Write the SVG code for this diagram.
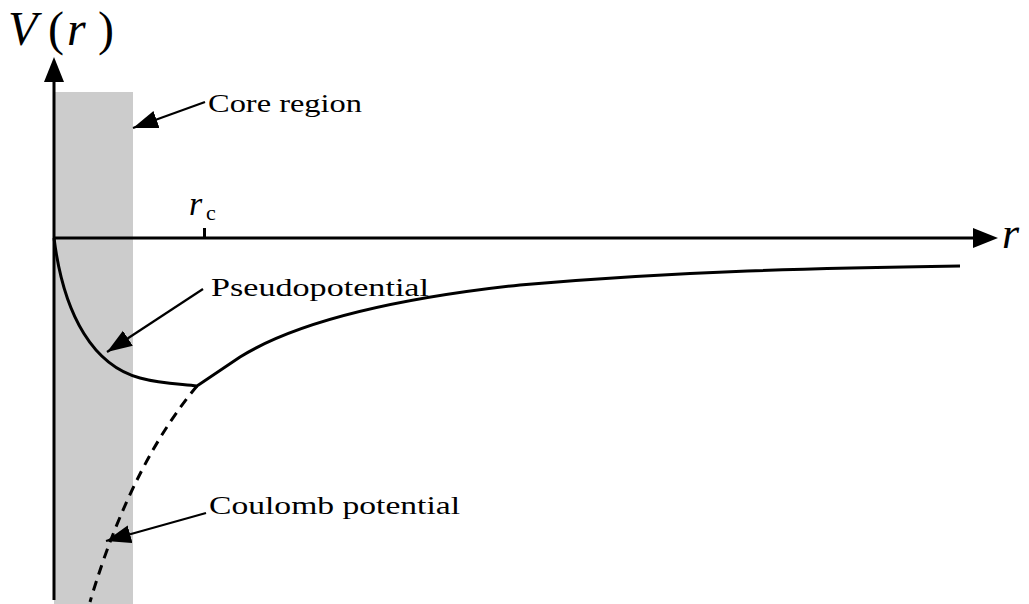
<svg xmlns="http://www.w3.org/2000/svg" width="1029" height="604" viewBox="0 0 1029 604">
<style>
text{font-family:"Liberation Serif","Times New Roman",serif;fill:#000}
.lbl{font-size:26px}
.it{font-style:italic}
.ax{stroke:#000;stroke-width:3;fill:none}
.cv{stroke:#000;stroke-width:3;fill:none;stroke-linejoin:miter}
.ann{stroke:#000;stroke-width:2.2;fill:none}
</style>
<defs>
<marker id="ah" markerUnits="userSpaceOnUse" markerWidth="28" markerHeight="20" refX="25" refY="9" orient="auto">
<path d="M0,0 L25,9 L0,18 Z" fill="#000"/>
</marker>
</defs>
<rect width="1029" height="604" fill="#fff"/>
<g id="core">
<rect x="54" y="92" width="79" height="512" fill="#cccccc"/>
</g>
<g id="axes">
<line class="ax" x1="54" y1="600" x2="54" y2="80"/>
<polygon points="54,57 44,82 64,82" fill="#000"/>
<line class="ax" x1="54" y1="238" x2="975" y2="238"/>
<polygon points="998,238 973,228 973,248" fill="#000"/>
<line class="ax" x1="204.5" y1="228" x2="204.5" y2="238"/>
<text y="45" font-size="48"><tspan x="8" class="it">V</tspan><tspan x="48">(</tspan><tspan x="67" class="it">r</tspan><tspan x="98">)</tspan></text>
<text x="1002" y="248" font-size="44" class="it">r</text>
<text x="189" y="215" font-size="34" class="it">r</text>
<text x="206" y="220" font-size="22">c</text>
</g>
<g id="curves">
<path class="cv" d="M54,238 C64,318 95,366 140,378 C162,384 182,384 197,386 L240,357 C300,320 400,298 520,285 C680,271 820,268 960,266"/>
<path class="cv" d="M197,386 C160,430 120,500 90,602" stroke-dasharray="10,7"/>
</g>
<g id="connectors">
<line class="ann" x1="205" y1="102" x2="133" y2="128" marker-end="url(#ah)"/>
<line class="ann" x1="203" y1="289" x2="107" y2="352" marker-end="url(#ah)"/>
<line class="ann" x1="206" y1="513" x2="106" y2="541" marker-end="url(#ah)"/>
</g>
<g id="label-core"><text class="lbl" x="208" y="112" textLength="154" lengthAdjust="spacingAndGlyphs">Core region</text></g>
<g id="label-pseudo"><text class="lbl" x="211" y="296" textLength="218" lengthAdjust="spacingAndGlyphs">Pseudopotential</text></g>
<g id="label-coulomb"><text class="lbl" x="209" y="514" textLength="251" lengthAdjust="spacingAndGlyphs">Coulomb potential</text></g>
</svg>
